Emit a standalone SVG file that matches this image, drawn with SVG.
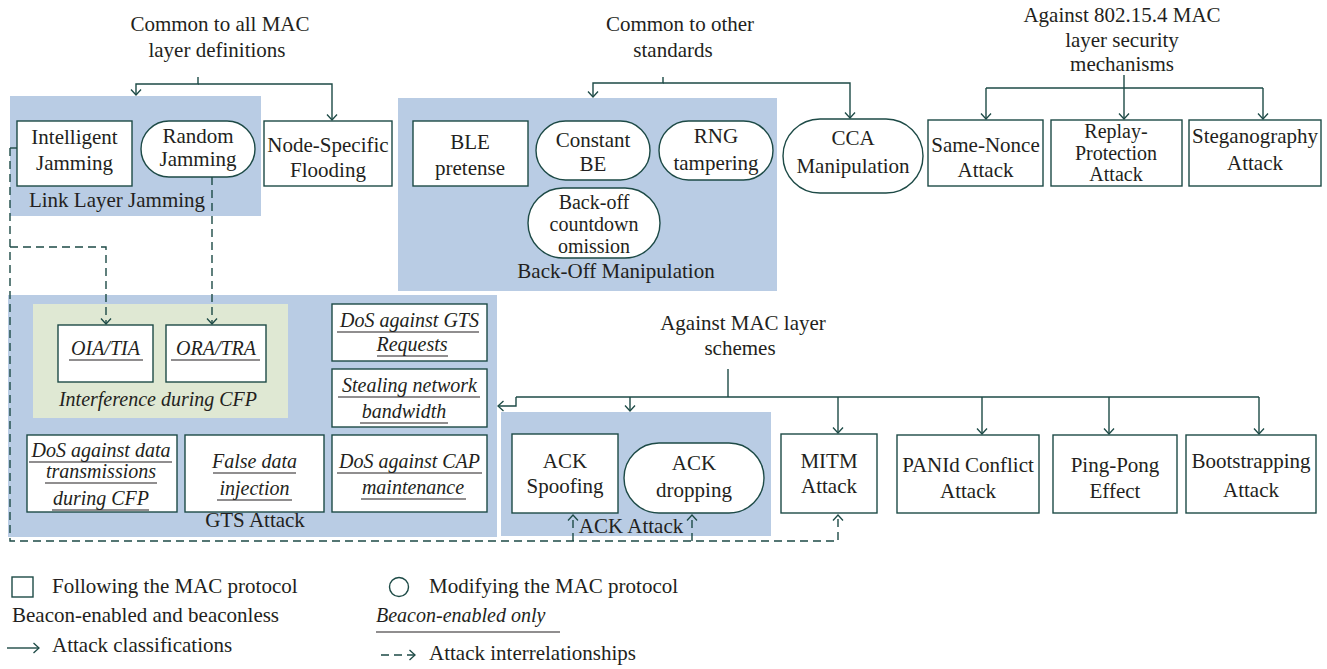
<svg xmlns="http://www.w3.org/2000/svg" width="1327" height="669" viewBox="0 0 1327 669">
<style>
.t{font-family:"Liberation Serif","Times New Roman",serif;font-size:21px;fill:#231f20;text-anchor:middle}
.i{font-style:italic;font-size:20px}
.s{text-anchor:start}
.tight{font-size:20px}
.box{fill:#fff;stroke:#1d4a46;stroke-width:1.4}
.blue{fill:#b9cce4}
.green{fill:#dfe8d3}
.conn{fill:none;stroke:#1d4a46;stroke-width:1.4}
.dash{stroke-dasharray:8 5}
.ul{stroke:#231f20;stroke-width:1.2}
</style>
<defs>
<marker id="arr" viewBox="-7 -6 8 12" refX="0" refY="0" markerWidth="8" markerHeight="12" markerUnits="userSpaceOnUse" orient="auto">
<path d="M-5.5,-5 L0,0 L-5.5,5" fill="none" stroke="#1d4a46" stroke-width="1.3" stroke-dasharray="none"/>
</marker>
</defs>

<!-- groups (backgrounds) -->
<g id="link-layer-jamming">
<rect class="blue" x="10" y="96" width="251" height="120"/>
<text class="t" x="117" y="207">Link Layer Jamming</text>
</g>
<g id="back-off-manipulation">
<rect class="blue" x="398" y="98" width="379" height="193"/>
<text class="t" x="616" y="278">Back-Off Manipulation</text>
</g>
<g id="gts-attack">
<rect class="blue" x="8" y="295" width="489" height="242"/>
<text class="t" x="255" y="527">GTS Attack</text>
</g>
<g id="interference-cfp">
<rect class="green" x="33" y="304" width="255" height="114"/>
<text class="t i" x="158" y="406">Interference during CFP</text>
</g>
<g id="ack-attack">
<rect class="blue" x="501" y="412" width="270" height="124"/>
<text class="t" x="631" y="533">ACK Attack</text>
</g>

<!-- titles -->
<g id="title-common-all">
<text class="t" x="220" y="31">Common to all MAC</text>
<text class="t" x="217" y="57">layer definitions</text>
</g>
<g id="title-common-other">
<text class="t" x="680" y="31">Common to other</text>
<text class="t" x="673" y="57">standards</text>
</g>
<g id="title-security">
<text class="t" x="1122" y="22">Against 802.15.4 MAC</text>
<text class="t" x="1122" y="47">layer security</text>
<text class="t" x="1122" y="71">mechanisms</text>
</g>
<g id="title-schemes">
<text class="t" x="743" y="330">Against MAC layer</text>
<text class="t" x="740" y="355">schemes</text>
</g>

<!-- nodes -->
<g id="intelligent-jamming">
<rect class="box" x="17" y="121" width="115" height="65"/>
<text class="t" x="74.5" y="144">Intelligent</text>
<text class="t" x="74.5" y="170">Jamming</text>
</g>
<g id="random-jamming">
<rect class="box" x="141" y="121" width="114" height="56" rx="28"/>
<text class="t" x="198" y="143">Random</text>
<text class="t" x="198" y="166">Jamming</text>
</g>
<g id="node-specific-flooding">
<rect class="box" x="264" y="121" width="128" height="65"/>
<text class="t" x="328" y="152">Node-Specific</text>
<text class="t" x="328" y="177">Flooding</text>
</g>
<g id="ble-pretense">
<rect class="box" x="413" y="121" width="115" height="65"/>
<text class="t" x="470" y="149">BLE</text>
<text class="t" x="470" y="175">pretense</text>
</g>
<g id="constant-be">
<rect class="box" x="536" y="121" width="114" height="59" rx="29.5"/>
<text class="t" x="593" y="147">Constant</text>
<text class="t" x="593" y="171">BE</text>
</g>
<g id="rng-tampering">
<rect class="box" x="659" y="121" width="114" height="59" rx="29.5"/>
<text class="t" x="716" y="143">RNG</text>
<text class="t" x="716" y="170">tampering</text>
</g>
<g id="backoff-countdown">
<rect class="box" x="528" y="188" width="132" height="70" rx="35"/>
<text class="t tight" x="594" y="209">Back-off</text>
<text class="t tight" x="594" y="231">countdown</text>
<text class="t tight" x="594" y="253">omission</text>
</g>
<g id="cca-manipulation">
<rect class="box" x="783" y="119" width="140" height="74" rx="37"/>
<text class="t" x="853" y="145">CCA</text>
<text class="t" x="853" y="173">Manipulation</text>
</g>
<g id="same-nonce">
<rect class="box" x="928" y="120" width="115" height="66"/>
<text class="t" x="985.5" y="152">Same-Nonce</text>
<text class="t" x="985.5" y="177">Attack</text>
</g>
<g id="replay-protection">
<rect class="box" x="1051" y="120" width="131" height="66"/>
<text class="t tight" x="1116" y="138">Replay-</text>
<text class="t tight" x="1116" y="160">Protection</text>
<text class="t tight" x="1116" y="181">Attack</text>
</g>
<g id="steganography">
<rect class="box" x="1189" y="120" width="132" height="66"/>
<text class="t" x="1255" y="143">Steganography</text>
<text class="t" x="1255" y="170">Attack</text>
</g>

<g id="oia-tia">
<rect class="box" x="58" y="325" width="95" height="57"/>
<text class="t i" x="105.5" y="355">OIA/TIA</text>
<line class="ul" x1="69" y1="360" x2="143" y2="360"/>
</g>
<g id="ora-tra">
<rect class="box" x="166" y="325" width="100" height="57"/>
<text class="t i" x="216" y="355">ORA/TRA</text>
<line class="ul" x1="171" y1="360" x2="260" y2="360"/>
</g>
<g id="dos-gts-requests">
<rect class="box" x="332" y="304" width="155" height="57"/>
<text class="t i" x="409.5" y="327">DoS against GTS</text>
<line class="ul" x1="337" y1="332" x2="479" y2="332"/>
<text class="t i" x="412" y="351">Requests</text>
<line class="ul" x1="377" y1="356" x2="448" y2="356"/>
</g>
<g id="stealing-bandwidth">
<rect class="box" x="332" y="369" width="155" height="58"/>
<text class="t i" x="409.5" y="392">Stealing network</text>
<line class="ul" x1="338" y1="397" x2="480" y2="397"/>
<text class="t i" x="404" y="418">bandwidth</text>
<line class="ul" x1="360" y1="423" x2="448" y2="423"/>
</g>
<g id="dos-data-cfp">
<rect class="box" x="27" y="435" width="150" height="77"/>
<text class="t i" x="101" y="457">DoS against data</text>
<line class="ul" x1="29" y1="462" x2="172" y2="462"/>
<text class="t i" x="101" y="478">transmissions</text>
<line class="ul" x1="45" y1="483" x2="157" y2="483"/>
<text class="t i" x="101" y="505">during CFP</text>
<line class="ul" x1="52" y1="510" x2="149" y2="510"/>
</g>
<g id="false-data-injection">
<rect class="box" x="185" y="435" width="139" height="77"/>
<text class="t i" x="254.5" y="468">False data</text>
<line class="ul" x1="213" y1="473" x2="296" y2="473"/>
<text class="t i" x="254.5" y="495">injection</text>
<line class="ul" x1="217" y1="500" x2="292" y2="500"/>
</g>
<g id="dos-cap">
<rect class="box" x="332" y="435" width="155" height="77"/>
<text class="t i" x="409.5" y="468">DoS against CAP</text>
<line class="ul" x1="337" y1="473" x2="482" y2="473"/>
<text class="t i" x="413" y="494">maintenance</text>
<line class="ul" x1="361" y1="499" x2="466" y2="499"/>
</g>

<g id="ack-spoofing">
<rect class="box" x="512" y="434" width="106" height="79"/>
<text class="t" x="565" y="468">ACK</text>
<text class="t" x="565" y="493">Spoofing</text>
</g>
<g id="ack-dropping">
<rect class="box" x="624" y="443" width="140" height="70" rx="35"/>
<text class="t" x="694" y="470">ACK</text>
<text class="t" x="694" y="497">dropping</text>
</g>
<g id="mitm">
<rect class="box" x="781" y="434" width="96" height="79"/>
<text class="t" x="829" y="468">MITM</text>
<text class="t" x="829" y="493">Attack</text>
</g>
<g id="panid-conflict">
<rect class="box" x="897" y="435" width="142" height="78"/>
<text class="t" x="968" y="472">PANId Conflict</text>
<text class="t" x="968" y="498">Attack</text>
</g>
<g id="ping-pong">
<rect class="box" x="1053" y="435" width="124" height="78"/>
<text class="t" x="1115" y="472">Ping-Pong</text>
<text class="t" x="1115" y="498">Effect</text>
</g>
<g id="bootstrapping">
<rect class="box" x="1186" y="435" width="130" height="78"/>
<text class="t" x="1251" y="468">Bootstrapping</text>
<text class="t" x="1251" y="497">Attack</text>
</g>

<!-- connectors -->
<g id="connectors">
<path class="conn" d="M198,77 V84 H136 V95" marker-end="url(#arr)"/>
<path class="conn" d="M198,84 H332 V120" marker-end="url(#arr)"/>
<path class="conn" d="M663,77 V83 H593 V97" marker-end="url(#arr)"/>
<path class="conn" d="M663,83 H850 V118" marker-end="url(#arr)"/>
<path class="conn" d="M1124,75 V119" marker-end="url(#arr)"/>
<path class="conn" d="M986,88 H1263"/>
<path class="conn" d="M986,88 V119" marker-end="url(#arr)"/>
<path class="conn" d="M1263,88 V119" marker-end="url(#arr)"/>
<path class="conn" d="M728,369 V397"/>
<path class="conn" d="M516,397 H1259"/>
<path class="conn" d="M516,397 V406 H498" marker-end="url(#arr)"/>
<path class="conn" d="M630,397 V411" marker-end="url(#arr)"/>
<path class="conn" d="M838,397 V433" marker-end="url(#arr)"/>
<path class="conn" d="M982,397 V434" marker-end="url(#arr)"/>
<path class="conn" d="M1109,397 V434" marker-end="url(#arr)"/>
<path class="conn" d="M1259,397 V434" marker-end="url(#arr)"/>
<path class="conn" d="M10,148 H17"/>
<path class="conn dash" d="M10,148 V541 H838 V515" marker-end="url(#arr)"/>
<path class="conn dash" d="M10,247 H106 V324" marker-end="url(#arr)"/>
<path class="conn dash" d="M212,177 V324" marker-end="url(#arr)"/>
<path class="conn dash" d="M573,541 V515" marker-end="url(#arr)"/>
<path class="conn dash" d="M692,541 V515" marker-end="url(#arr)"/>
</g>

<!-- legend -->
<g id="legend">
<rect class="box" x="12" y="577" width="21" height="20"/>
<text class="t s" x="52" y="593">Following the MAC protocol</text>
<circle class="box" cx="399" cy="587" r="9.5"/>
<text class="t s" x="429" y="593">Modifying the MAC protocol</text>
<text class="t s" x="12" y="622">Beacon-enabled and beaconless</text>
<text class="t s i" x="376" y="622">Beacon-enabled only</text>
<line class="ul" x1="376" y1="632" x2="560" y2="632"/>
<path class="conn" d="M7,648 H39" marker-end="url(#arr)"/>
<text class="t s" x="52" y="652">Attack classifications</text>
<path class="conn dash" d="M381,655 H415" stroke-dasharray="6 4" marker-end="url(#arr)"/>
<text class="t s" x="429" y="660">Attack interrelationships</text>
</g>
</svg>
